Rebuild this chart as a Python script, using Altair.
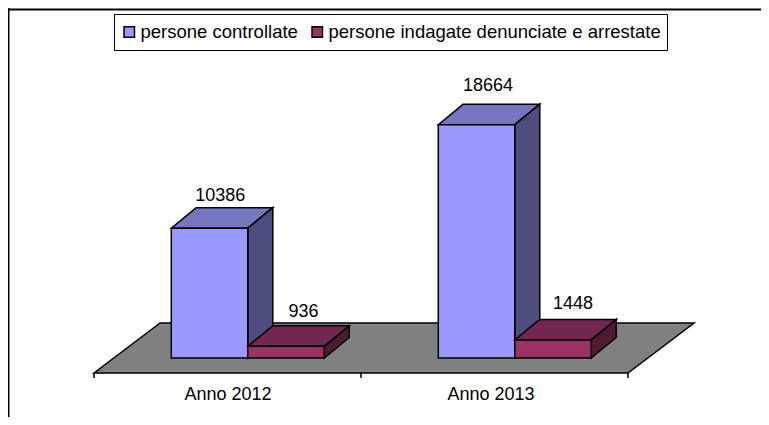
import altair as alt
import pandas as pd

years = ["Anno 2012", "Anno 2013"]
series_names = ["persone controllate", "persone indagate denunciate e arrestate"]
controllate = [10386, 18664]
indagate = [936, 1448]

FRONT = ["#9999FF", "#993366"]
TOP = ["#7676BE", "#73264F"]
SIDE = ["#4D4D80", "#4D1A33"]
FLOOR = "#808080"

# layout (category units on x, value units on y)
W, H = 753, 409
PX_X = 267.0      # px per category
PX_Y = 0.0125     # px per value unit
X0_PX, Y0_PX = 86.0, 350.0
BAR_W = 0.2865
BAR_GAP = 0.2895
DX, DY = 25 / PX_X, 20.5 / PX_Y
FLOOR_FRONT, FLOOR_BACK = -15 / PX_Y, 35 / PX_Y
FLOOR_DX = 66 / PX_X
STROKE = 1.5

xs = alt.Scale(domain=[-X0_PX / PX_X, (W - X0_PX) / PX_X], nice=False, zero=False)
ys = alt.Scale(domain=[(Y0_PX - H) / PX_Y, Y0_PX / PX_Y], nice=False, zero=False)
X = lambda f="x": alt.X(f"{f}:Q", scale=xs, axis=None)
Y = lambda f="y": alt.Y(f"{f}:Q", scale=ys, axis=None)
X2 = alt.X2("x2:Q")
Y2 = alt.Y2("y2:Q")


def h_area(rows, color):
    return alt.Chart(pd.DataFrame(rows)).mark_area(
        orient="horizontal", fill=color, stroke="black", strokeWidth=STROKE
    ).encode(y=Y(), x=X(), x2=X2, detail="g:N")


def v_area(rows, color):
    return alt.Chart(pd.DataFrame(rows)).mark_area(
        orient="vertical", fill=color, stroke="black", strokeWidth=STROKE
    ).encode(x=X(), y=Y(), y2=Y2, detail="g:N")


layers = []

# frame
layers.append(alt.Chart(pd.DataFrame({"a": [0]})).mark_rule(color="black", strokeWidth=2).encode(
    x=alt.value(0), x2=alt.value(W), y=alt.value(1.5)))
layers.append(alt.Chart(pd.DataFrame({"a": [0]})).mark_rule(color="black", strokeWidth=2).encode(
    x=alt.value(0.5), y=alt.value(0), y2=alt.value(H)))

# floor
layers.append(h_area(
    [{"g": 0, "y": FLOOR_FRONT, "x": 0, "x2": 2},
     {"g": 0, "y": FLOOR_BACK, "x": FLOOR_DX, "x2": 2 + FLOOR_DX}], FLOOR))

# axis ticks
ticks = pd.DataFrame({"x": [0, 1, 2], "y": [FLOOR_FRONT] * 3, "y2": [FLOOR_FRONT - 5 / PX_Y] * 3})
layers.append(alt.Chart(ticks).mark_rule(color="black", strokeWidth=STROKE).encode(x=X(), y=Y(), y2=Y2))

color = alt.Color(
    "name:N",
    scale=alt.Scale(domain=series_names, range=FRONT),
    legend=alt.Legend(
        title=None, orient="none", legendX=106, legendY=6, direction="horizontal",
        columns=2, fillColor="white", strokeColor="black", padding=6,
        labelFont="Liberation Sans", labelFontSize=18.5, labelColor="black", labelLimit=500,
        labelOffset=2, clipHeight=24,
        symbolType="square", symbolSize=110, symbolStrokeColor="black", symbolStrokeWidth=1.5,
        columnPadding=10,
    ),
)

labels = []
nudge_x = [[0.04, 0.043], [0.065, 0.075]]
nudge_y = [[12, 18], [14, 15.5]]
for s, vals in enumerate([controllate, indagate]):
    top, side, front = [], [], []
    for c, v in enumerate(vals):
        x0 = c + BAR_GAP + s * BAR_W
        x1 = x0 + BAR_W
        top += [{"g": c, "y": v, "x": x0, "x2": x1},
                {"g": c, "y": v + DY, "x": x0 + DX, "x2": x1 + DX}]
        side += [{"g": c, "x": x1, "y": 0, "y2": v},
                 {"g": c, "x": x1 + DX, "y": DY, "y2": v + DY}]
        front.append({"name": series_names[s], "x": x0, "x2": x1, "y": 0, "y2": v})
        labels.append({"x": (x0 + x1) / 2 + nudge_x[s][c], "y": v + DY + nudge_y[s][c] / PX_Y, "t": str(v)})
    layers.append(h_area(top, TOP[s]))
    layers.append(v_area(side, SIDE[s]))
    layers.append(alt.Chart(pd.DataFrame(front)).mark_rect(stroke="black", strokeWidth=STROKE).encode(
        x=X(), x2=X2, y=Y(), y2=Y2, color=color))

text_font = dict(font="Liberation Sans", fontSize=18, color="black", baseline="middle", align="center")
layers.append(alt.Chart(pd.DataFrame(labels)).mark_text(**text_font).encode(x=X(), y=Y(), text="t:N"))

cat = pd.DataFrame({"x": [0.502, 1.487], "y": [-37 / PX_Y] * 2, "t": years})
layers.append(alt.Chart(cat).mark_text(**text_font).encode(x=X(), y=Y(), text="t:N"))

chart = alt.layer(*layers).properties(
    width=W, height=H, padding=0, autosize=alt.AutoSizeParams(type="none"),
    background="white",
).configure_view(stroke=None)

chart.save("out.html", embed_options={"renderer": "svg", "actions": False})
